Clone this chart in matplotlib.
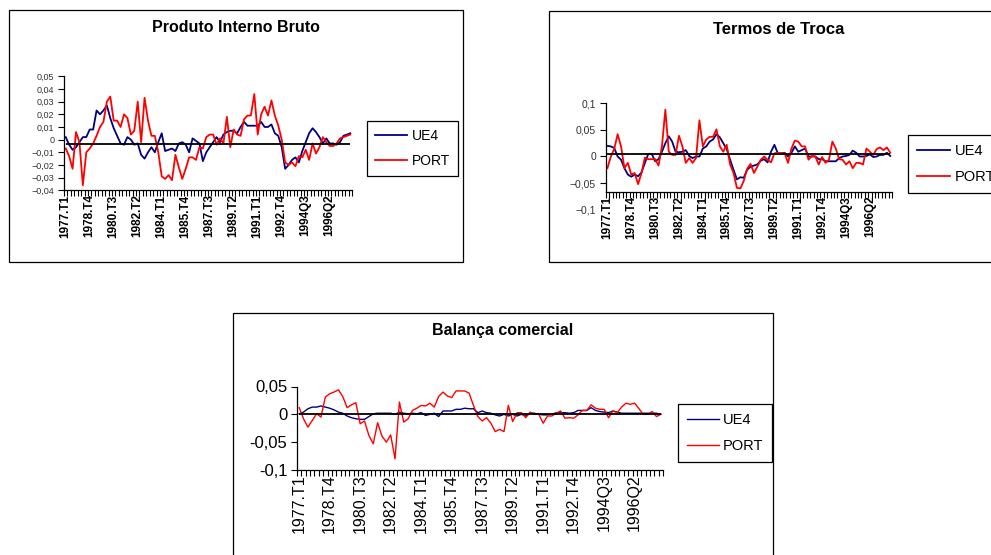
import numpy as np
import matplotlib
matplotlib.use("Agg")
import matplotlib.pyplot as plt
from matplotlib.patches import Rectangle

plt.rcParams['font.family'] = ['Liberation Sans', 'DejaVu Sans']

W, H = 991, 555

# Quarterly categories 1977.T1 .. 1997.T4, one label every 7 quarters
tick_labels = ["1977.T1", "1978.T4", "1980.T3", "1982.T2", "1984.T1", "1985.T4",
               "1987.T3", "1989.T2", "1991.T1", "1992.T4", "1994Q3", "1996Q2"]
tick_step = 7

# Produto Interno Bruto
pib_ue4 = [0.002, -0.004, -0.008, -0.006, -0.002, 0.002, 0.002, 0.008, 0.008, 0.023,
           0.020, 0.023, 0.027, 0.017, 0.009, 0.003, -0.003, -0.004, 0.002, 0.000,
           -0.004, -0.003, -0.012, -0.015, -0.010, -0.006, -0.010, -0.002, 0.005, -0.009,
           -0.008, -0.007, -0.009, -0.003, -0.002, -0.004, -0.010, 0.001, -0.001, -0.003,
           -0.017, -0.010, -0.006, -0.002, 0.002, -0.002, 0.004, 0.006, 0.007, 0.007,
           0.005, 0.010, 0.014, 0.011, 0.011, 0.011, 0.011, 0.014, 0.010, 0.010,
           0.012, 0.005, 0.003, -0.006, -0.023, -0.020, -0.016, -0.014, -0.018, -0.009,
           -0.002, 0.005, 0.009, 0.006, 0.002, -0.003, 0.001, -0.003, -0.003, -0.004,
           -0.002, 0.003, 0.004, 0.005]
pib_port = [-0.007, -0.013, -0.023, 0.006, -0.002, -0.036, -0.010, -0.007, -0.003, 0.003,
            0.010, 0.014, 0.030, 0.034, 0.015, 0.015, 0.010, 0.020, 0.017, 0.004,
            0.007, 0.030, -0.002, 0.033, 0.015, 0.003, 0.003, -0.010, -0.029, -0.031,
            -0.028, -0.032, -0.012, -0.022, -0.031, -0.023, -0.014, -0.014, -0.016, -0.006,
            -0.007, 0.002, 0.004, 0.004, -0.004, 0.001, -0.003, 0.018, -0.006, 0.008,
            0.004, 0.003, 0.016, 0.019, 0.019, 0.036, 0.004, 0.020, 0.026, 0.019,
            0.031, 0.019, 0.011, 0.000, -0.018, -0.020, -0.018, -0.021, -0.013, -0.014,
            -0.008, -0.016, -0.003, -0.011, -0.006, 0.002, -0.002, -0.005, -0.005, -0.003,
            0.001, 0.002, 0.003, 0.004]
pib_ref = -0.0037

# Termos de Troca
tt_ue4 = [0.020, 0.019, 0.016, 0.000, -0.006, -0.022, -0.034, -0.038, -0.034, -0.037,
          -0.030, -0.012, 0.005, 0.005, -0.009, -0.005, 0.009, 0.025, 0.038, 0.028,
          0.009, 0.008, 0.009, 0.012, 0.001, -0.003, 0.000, 0.000, 0.015, 0.019,
          0.028, 0.032, 0.042, 0.036, 0.025, 0.014, -0.006, -0.025, -0.043, -0.039,
          -0.040, -0.025, -0.019, -0.017, -0.015, -0.008, -0.005, -0.011, 0.009, 0.022,
          0.006, 0.006, 0.007, 0.000, 0.007, 0.019, 0.009, 0.012, 0.015, 0.000,
          0.000, 0.000, -0.005, -0.005, -0.009, -0.009, -0.009, -0.009, -0.003, 0.000,
          0.001, 0.003, 0.011, 0.007, 0.000, 0.000, 0.001, 0.004, -0.001, 0.000,
          0.003, 0.003, 0.007, 0.001]
tt_port = [-0.022, 0.000, 0.014, 0.042, 0.019, -0.022, -0.012, -0.034, -0.031, -0.052,
           -0.031, -0.002, -0.005, -0.005, -0.005, -0.017, 0.019, 0.088, 0.009, 0.003,
           0.003, 0.039, 0.019, -0.012, -0.003, -0.012, -0.003, 0.068, 0.019, 0.032,
           0.037, 0.037, 0.051, 0.019, 0.009, 0.022, -0.015, -0.031, -0.059, -0.060,
           -0.046, -0.023, -0.014, -0.031, -0.019, -0.006, 0.000, -0.006, -0.011, 0.006,
           0.007, 0.006, 0.006, -0.012, 0.015, 0.030, 0.028, 0.019, 0.019, -0.006,
           0.001, 0.000, -0.015, -0.001, -0.012, -0.006, 0.028, 0.015, -0.005, -0.006,
           -0.015, -0.009, -0.022, -0.012, -0.012, -0.015, 0.015, 0.009, 0.003, 0.014,
           0.017, 0.012, 0.017, 0.007]
tt_ref = 0.005

# Balança comercial
bc_ue4 = [0.001, 0.004, 0.010, 0.013, 0.013, 0.015, 0.013, 0.011, 0.008, 0.004,
          0.002, -0.003, -0.006, -0.008, -0.009, -0.009, -0.004, 0.001, 0.002, 0.002,
          0.002, 0.002, 0.000, 0.004, 0.002, 0.001, 0.002, 0.001, 0.003, -0.002,
          0.000, 0.002, -0.004, 0.006, 0.006, 0.006, 0.009, 0.009, 0.011, 0.010,
          0.010, 0.003, 0.006, 0.003, 0.002, -0.001, -0.003, 0.000, -0.003, 0.000,
          -0.003, 0.000, -0.003, 0.002, 0.002, 0.000, -0.001, -0.001, 0.000, 0.003,
          0.003, 0.003, 0.002, 0.003, 0.007, 0.007, 0.007, 0.012, 0.007, 0.005,
          0.004, 0.003, 0.006, 0.004, 0.002, 0.002, 0.002, 0.002, 0.002, 0.002,
          0.002, 0.002, 0.002, 0.000]
bc_port = [0.012, -0.008, -0.023, -0.011, 0.001, -0.005, 0.031, 0.037, 0.040, 0.044,
           0.032, 0.012, 0.017, 0.021, -0.017, -0.012, -0.038, -0.053, -0.015, -0.039,
           -0.050, -0.037, -0.080, 0.022, -0.014, -0.008, 0.007, 0.011, 0.016, 0.015,
           0.020, 0.013, 0.032, 0.040, 0.033, 0.030, 0.042, 0.042, 0.042, 0.038,
           0.016, -0.004, -0.012, -0.006, -0.016, -0.031, -0.027, -0.031, 0.016, -0.013,
           0.003, 0.003, -0.006, 0.004, 0.000, 0.000, -0.016, -0.003, -0.003, 0.002,
           0.006, -0.007, -0.006, -0.007, -0.001, 0.007, 0.007, 0.017, 0.011, 0.009,
           0.009, -0.006, 0.006, 0.003, 0.013, 0.020, 0.018, 0.020, 0.010, 0.000,
           0.000, 0.005, -0.004, 0.000]
bc_ref = 0.0

UE4_COLOR = '#000080'
PORT_COLOR = '#FF0000'

fig = plt.figure(figsize=(W / 100, H / 100), dpi=100)


def px_rect(x0, x1, y0, y1):
    return [x0 / W, 1 - y1 / H, (x1 - x0) / W, (y1 - y0) / H]


def frame(x0, y0, x1, y1):
    fig.add_artist(Rectangle((x0 / W, 1 - y1 / H), (x1 - x0) / W, (y1 - y0) / H,
                             transform=fig.transFigure, fill=False,
                             ec='black', lw=0.9, zorder=0))


def panel(rect, ue4, port, ref, yticks, ylabels, ylim, xsize, xweight, ysize,
          lw, ycolor='black', spine_at=None):
    ax = fig.add_axes(rect)
    n = len(ue4)
    x = np.arange(n)
    ax.plot(x, ue4, color=UE4_COLOR, lw=lw, label='UE4', zorder=2)
    ax.plot(x, port, color=PORT_COLOR, lw=lw, label='PORT', zorder=2)
    ax.hlines(ref, 0, n - 1, color='black', lw=1.3, zorder=3)
    ax.set_xlim(-0.5, n - 0.5)
    ax.set_ylim(*ylim)
    for s in ('top', 'right'):
        ax.spines[s].set_visible(False)
    for s in ('left', 'bottom'):
        ax.spines[s].set_linewidth(0.9)
    if spine_at is not None:
        # horizontal axis crosses above the bottom of the value range
        ax.spines['bottom'].set_position(('data', spine_at))
        ax.spines['left'].set_bounds(spine_at, ylim[1])
    ax.set_xticks(np.arange(0, n, tick_step)[:len(tick_labels)])
    ax.set_xticklabels(tick_labels, rotation=90, fontsize=xsize,
                       fontweight=xweight)
    ax.set_xticks(np.arange(-0.5, n, 1.0), minor=True)
    ax.tick_params(axis='x', which='major', length=0, pad=3, labelrotation=90)
    ax.tick_params(axis='x', which='minor', length=4, width=0.8, direction='out')
    ax.set_yticks(yticks)
    ax.set_yticklabels(ylabels, fontsize=ysize, color=ycolor)
    ax.tick_params(axis='y', length=4, width=0.8, direction='out', pad=3)
    return ax


def legend(ax, x, y, size, spacing, hlen):
    leg = ax.legend(loc='upper left', bbox_to_anchor=(x / W, 1 - y / H),
                    bbox_transform=fig.transFigure, fancybox=False,
                    edgecolor='black', framealpha=1, fontsize=size,
                    handlelength=hlen, handletextpad=0.3, labelspacing=spacing,
                    borderpad=0.6, borderaxespad=0)
    leg.get_frame().set_linewidth(0.9)
    return leg


# Frames around each chart
frame(9, 10, 463, 262)
frame(549, 11, 1005, 262)
frame(233, 312.5, 773, 575)

# Produto Interno Bruto
ax1 = panel(px_rect(64, 352, 76.3, 190.3), pib_ue4, pib_port, pib_ref,
            np.arange(-0.04, 0.051, 0.01),
            ["\u22120,04", "\u22120,03", "\u22120,02", "\u22120,01", "0",
             "0,01", "0,02", "0,03", "0,04", "0,05"],
            (-0.04, 0.05), 8.5, 'bold', 6.5, 1.3, ycolor='#333333')
legend(ax1, 367, 121, 10, 0.75, 2.3)
fig.text(236 / W, 1 - 28 / H, "Produto Interno Bruto", ha='center',
         va='center', fontsize=11.5, fontweight='bold')

# Termos de Troca
ax2 = panel(px_rect(605.7, 892, 103.3, 209.7), tt_ue4, tt_port, tt_ref,
            [-0.1, -0.05, 0, 0.05, 0.1],
            ["\u22120,1", "\u22120,05", "0", "0,05", "0,1"],
            (-0.1, 0.1), 8.5, 'bold', 7.5, 1.3, ycolor='#333333',
            spine_at=-0.066)
ax2.yaxis.get_major_ticks()[0].tick1line.set_visible(False)
legend(ax2, 908, 135, 10.5, 0.85, 2.3)
fig.text(779 / W, 1 - 29 / H, "Termos de Troca", ha='center',
         va='center', fontsize=12, fontweight='bold')

# Balança comercial
ax3 = panel(px_rect(297, 663, 386.5, 470), bc_ue4, bc_port, bc_ref,
            [-0.1, -0.05, 0, 0.05],
            ["-0,1", "-0,05", "0", "0,05"],
            (-0.1, 0.05), 11.5, 'normal', 12, 1.0)
legend(ax3, 678, 404, 10.5, 0.85, 2.2)
fig.text(503 / W, 1 - 331 / H, "Balança comercial", ha='center',
         va='center', fontsize=11.5, fontweight='bold')

fig.savefig("out.png", dpi=100, facecolor='white')
